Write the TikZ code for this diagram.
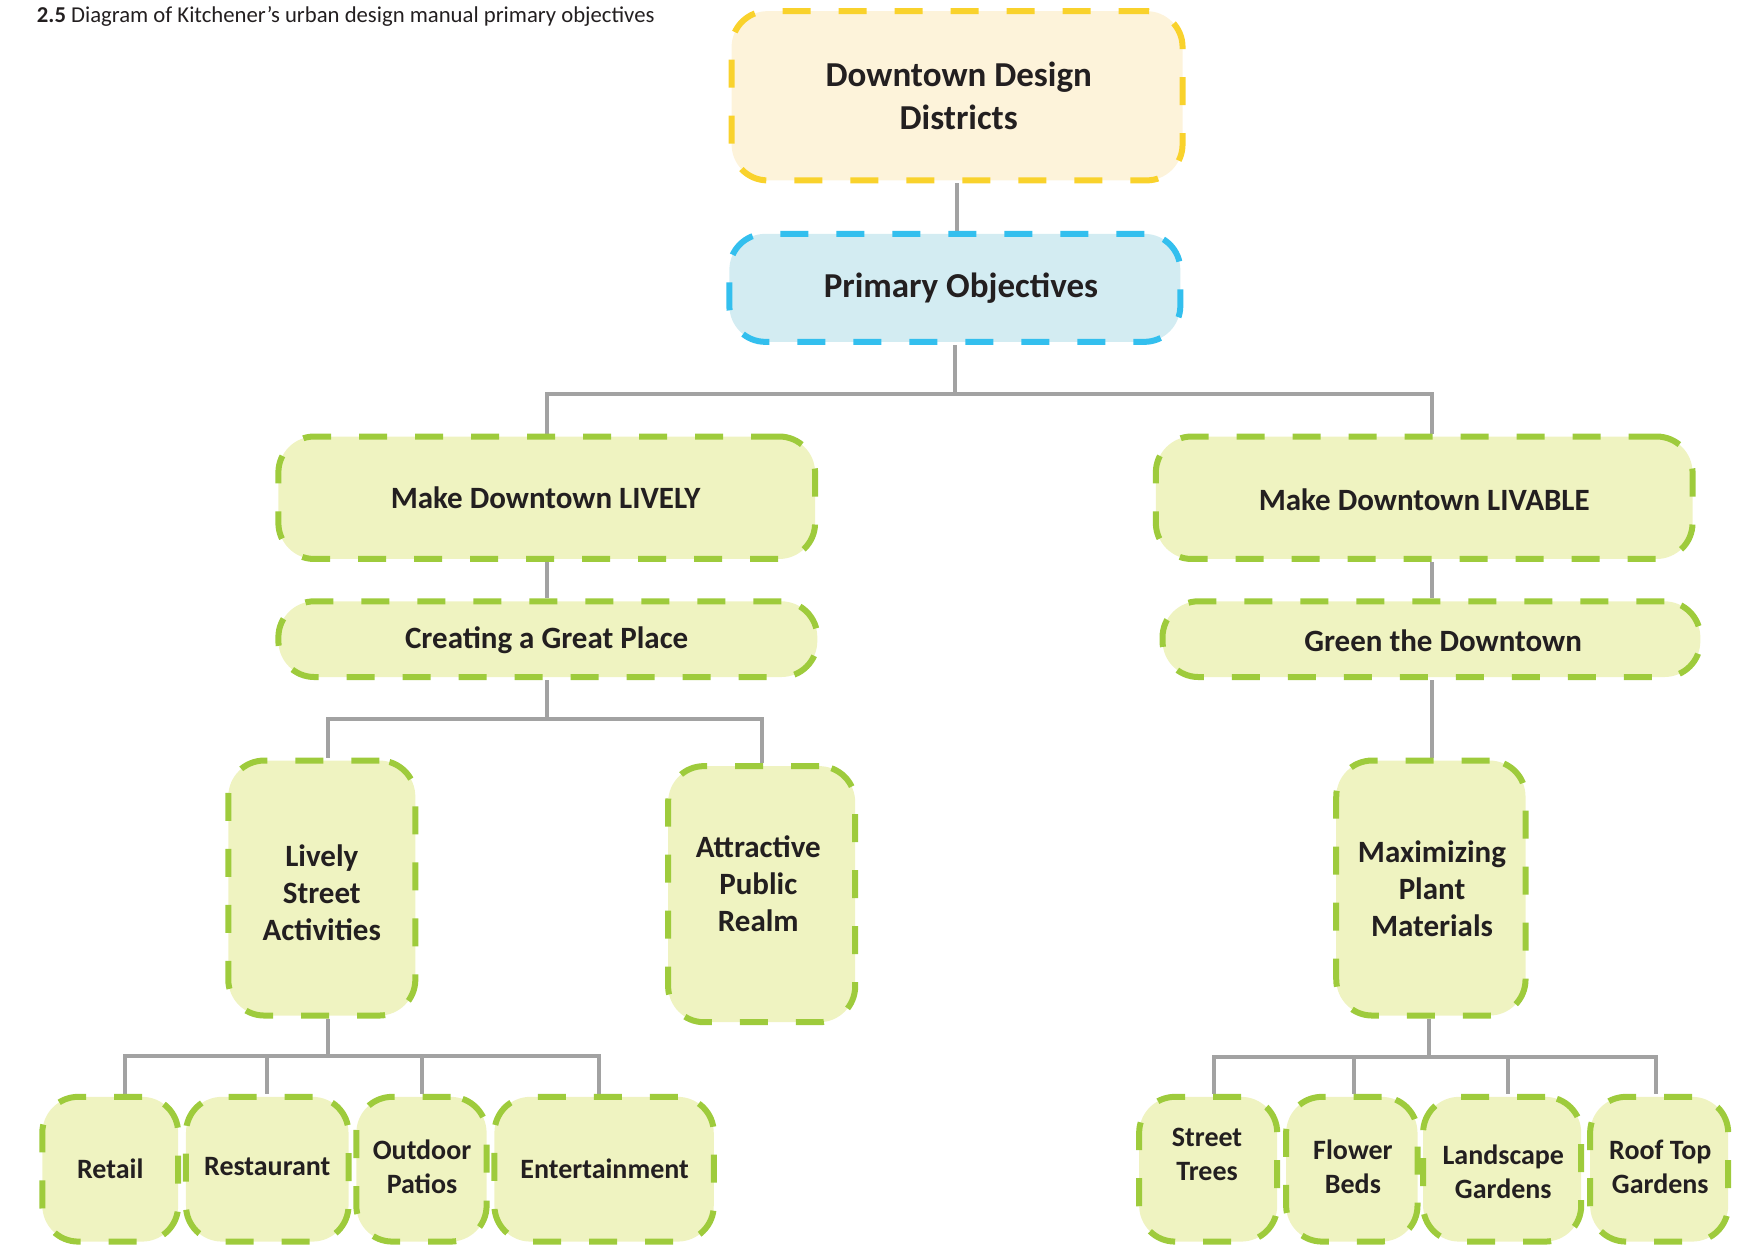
\documentclass[tikz,border=0pt]{standalone}
\usepackage{fontspec}
\setmainfont{Carlito}
\usetikzlibrary{backgrounds}
\definecolor{yel}{HTML}{F9D22C}
\definecolor{yelfill}{HTML}{FDF3DA}
\definecolor{blu}{HTML}{33BFEE}
\definecolor{blufill}{HTML}{D3ECF2}
\definecolor{grn}{HTML}{9ECB3C}
\definecolor{grnfill}{HTML}{EFF3C1}
\definecolor{conngray}{HTML}{A2A2A2}
\definecolor{txt}{HTML}{231F20}
\newcommand\bx[6]{\node[#6, minimum width={(#4-#2)*1.11352pt}, minimum height={(#5-#3)*1.11352pt}] (#1) at ({(#2+#4)/2},{(#3+#5)/2}) {};}
\begin{document}
\begin{tikzpicture}[x=1.11352pt,y=-1.11352pt,
  boxbase/.style={rounded corners=36pt, line width=6pt, dash pattern=on 28pt off 28pt, inner sep=0pt},
  ybox/.style={boxbase, draw=yel, fill=yelfill},
  bbox/.style={boxbase, draw=blu, fill=blufill},
  gbox/.style={boxbase, draw=grn, fill=grnfill},
  conn/.style={draw=conngray, line width=4pt},
  bigl/.style={text=txt, align=center, inner sep=0pt, font=\bfseries\fontsize{35}{43}\selectfont},
  midl/.style={text=txt, align=center, inner sep=0pt, font=\bfseries\fontsize{31}{37}\selectfont},
  smll/.style={text=txt, align=center, inner sep=0pt, font=\bfseries\fontsize{28}{34}\selectfont}]
\useasboundingbox (0,0) rectangle (1568,1120);

\node[anchor=west, text=txt, inner sep=0pt, font=\fontsize{22.7}{26}\selectfont] (cap) at (33,15) {\textbf{2.5} Diagram of Kitchener’s urban design manual primary objectives};

% boxes
\bx{ddd}{657}{10}{1062}{162}{ybox}
\bx{po}{655}{210}{1060}{307}{bbox}
\bx{lively}{250}{392}{732}{502}{gbox}
\bx{livable}{1038}{392}{1520}{502}{gbox}
\bx{great}{250}{540}{734}{608}{gbox}
\bx{green}{1044}{540}{1527}{608}{gbox}
\bx{lsa}{205}{683}{373}{912}{gbox}
\bx{apr}{600}{688}{768}{918}{gbox}
\bx{mpm}{1200}{683}{1370}{912}{gbox}
\bx{retail}{38}{985}{160}{1115}{gbox}
\bx{rest}{167}{985}{313}{1115}{gbox}
\bx{patio}{320}{985}{437}{1115}{gbox}
\bx{ent}{444}{985}{641}{1115}{gbox}
\bx{trees}{1023}{985}{1147}{1115}{gbox}
\bx{beds}{1155}{985}{1273}{1115}{gbox}
\bx{lands}{1278}{985}{1420}{1115}{gbox}
\bx{roof}{1428}{985}{1552}{1115}{gbox}

% labels
\node[bigl] (tddd) at (861,86) {Downtown Design\\Districts};
\node[bigl] (tpo) at (863,259) {Primary Objectives};
\node[midl] (tlively) at (490,447) {Make Downtown LIVELY};
\node[midl] (tlivable) at (1279,449) {Make Downtown LIVABLE};
\node[midl] (tgreat) at (491,575) {Creating a Great Place};
\node[midl] (tgreen) at (1296,575) {Green the Downtown};
\node[midl] (tlsa) at (289,802) {Lively\\Street\\Activities};
\node[midl] (tapr) at (681,794) {Attractive\\Public\\Realm};
\node[midl] (tmpm) at (1286,798) {Maximizing\\Plant\\Materials};
\node[smll] (tretail) at (99,1050) {Retail};
\node[smll] (trest) at (240,1048) {Restaurant};
\node[smll] (tpatio) at (379,1048) {Outdoor\\Patios};
\node[smll] (tent) at (543,1050) {Entertainment};
\node[smll] (ttrees) at (1084,1037) {Street\\Trees};
\node[smll] (tbeds) at (1215,1048) {Flower\\Beds};
\node[smll] (tlands) at (1350,1052) {Landscape\\Gardens};
\node[smll] (troof) at (1491,1048) {Roof Top\\Gardens};

% connectors
\coordinate (ja) at (491,354);
\coordinate (jb) at (1286,354);
\coordinate (jc) at (295,646);
\coordinate (jd) at (684,646);
\coordinate (je) at (112,948);
\coordinate (jf) at (538,948);
\coordinate (jg) at (1090,949);
\coordinate (jh) at (1487,949);
\begin{scope}[on background layer]
\draw[conn] (ddd.south) -- (ddd.south |- po.north);
\draw[conn] (po.south) -- (po.south |- ja);
\draw[conn] (lively.north -| ja) -- (ja) -- (jb) -- (jb |- livable.north);
\draw[conn] (lively.south -| ja) -- (ja |- great.north);
\draw[conn] (jb |- livable.south) -- (jb |- green.north);
\draw[conn] (great.south -| ja) -- (ja |- jc);
\draw[conn] (lsa.north -| jc) -- (jc) -- (jd) -- (jd |- apr.north);
\draw[conn] (jb |- green.south) -- (jb |- mpm.north);
\draw[conn] (lsa.south -| jc) -- (jc |- je);
\draw[conn] (retail.north -| je) -- (je) -- (jf) -- (jf |- ent.north);
\draw[conn] (240,948) -- (rest.north -| 240,948);
\draw[conn] (379,948) -- (patio.north -| 379,948);
\draw[conn] (mpm.south -| 1283,949) -- (1283,949);
\draw[conn] (trees.north -| jg) -- (jg) -- (jh) -- (jh |- roof.north);
\draw[conn] (1216,949) -- (beds.north -| 1216,949);
\draw[conn] (1354,949) -- (lands.north -| 1354,949);
\end{scope}
\end{tikzpicture}
\end{document}
